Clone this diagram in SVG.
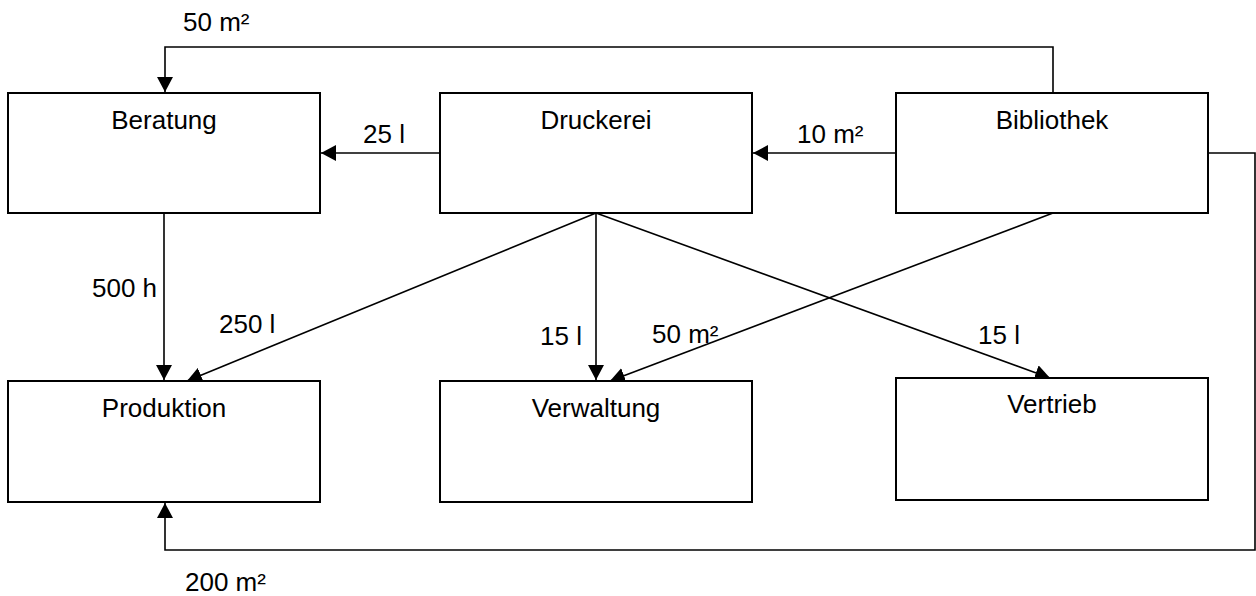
<svg xmlns="http://www.w3.org/2000/svg" width="1256" height="596" viewBox="0 0 1256 596">
<style>
.box{fill:#fff;stroke:#000;stroke-width:2}
.t{font-family:"Liberation Sans",Arial,sans-serif;font-size:26px;fill:#000}
.c{text-anchor:middle}
.ln{fill:none;stroke:#000;stroke-width:1.6}
</style>
<defs>
<marker id="ah" markerWidth="15" markerHeight="16" refX="15" refY="8" orient="auto" markerUnits="userSpaceOnUse">
<path d="M0,0 L15,8 L0,16 Z" fill="#000"/>
</marker>
</defs>
<rect width="1256" height="596" fill="#fff"/>
<g id="connectors">
<path class="ln" d="M1053,93 V47 H165 V92" marker-end="url(#ah)"/>
<path class="ln" d="M439,153 H321" marker-end="url(#ah)"/>
<path class="ln" d="M896,153 H753" marker-end="url(#ah)"/>
<path class="ln" d="M1208,153 H1255 V550 H165 V503" marker-end="url(#ah)"/>
<path class="ln" d="M164,213 V380" marker-end="url(#ah)"/>
<path class="ln" d="M596,213 L187,381" marker-end="url(#ah)"/>
<path class="ln" d="M596,213 V380" marker-end="url(#ah)"/>
<path class="ln" d="M596,213 L1050,378" marker-end="url(#ah)"/>
<path class="ln" d="M1053,213 L610,381" marker-end="url(#ah)"/>
<text class="t" x="183" y="31">50 m²</text>
<text class="t" x="363" y="143">25 l</text>
<text class="t" x="797" y="143">10 m²</text>
<text class="t" x="92" y="297">500 h</text>
<text class="t" x="219" y="333">250 l</text>
<text class="t" x="540" y="345">15 l</text>
<text class="t" x="652" y="343">50 m²</text>
<text class="t" x="978" y="344">15 l</text>
<text class="t" x="185" y="591">200 m²</text>
</g>
<g id="beratung"><rect class="box" x="8" y="93" width="312" height="120"/><text class="t c" x="164" y="129">Beratung</text></g>
<g id="druckerei"><rect class="box" x="440" y="93" width="312" height="120"/><text class="t c" x="596" y="129">Druckerei</text></g>
<g id="bibliothek"><rect class="box" x="896" y="93" width="312" height="120"/><text class="t c" x="1052" y="129">Bibliothek</text></g>
<g id="produktion"><rect class="box" x="8" y="381" width="312" height="121"/><text class="t c" x="164" y="417">Produktion</text></g>
<g id="verwaltung"><rect class="box" x="440" y="381" width="312" height="121"/><text class="t c" x="596" y="417">Verwaltung</text></g>
<g id="vertrieb"><rect class="box" x="896" y="378" width="312" height="122"/><text class="t c" x="1052" y="413">Vertrieb</text></g>
</svg>
